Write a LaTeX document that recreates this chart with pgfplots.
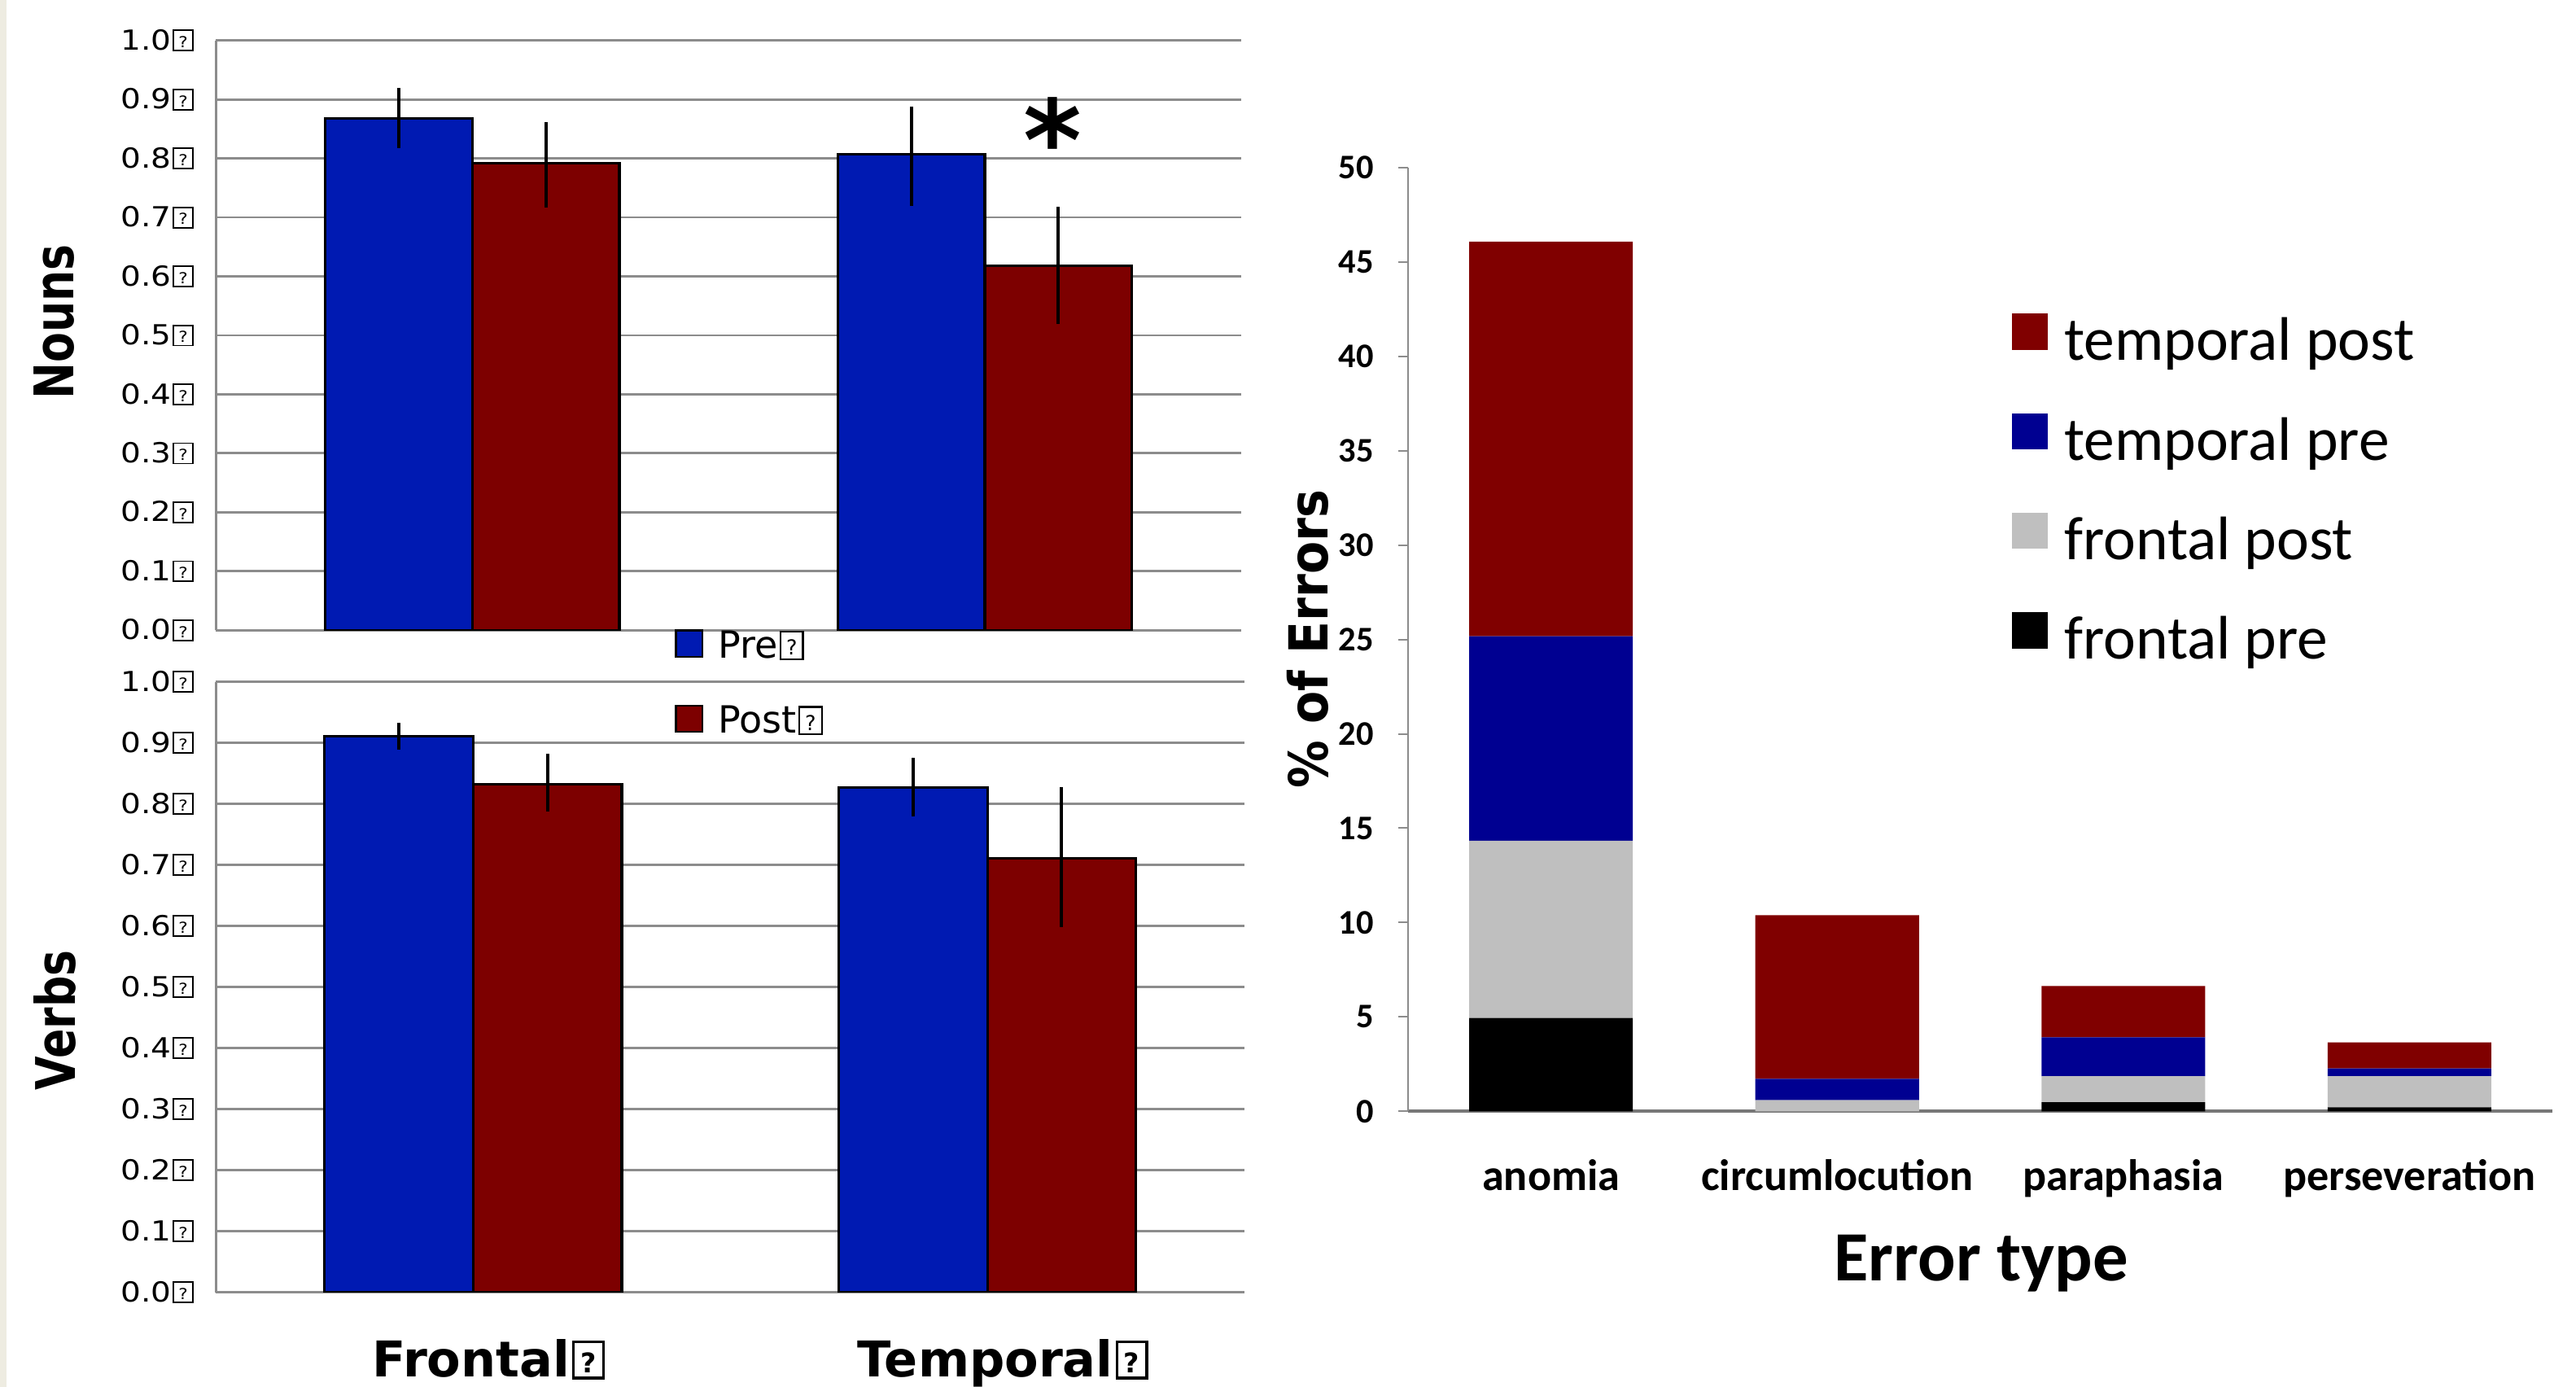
\documentclass[border=0pt]{standalone}
\usepackage{pgfplots}
\pgfplotsset{compat=1.18}
\usepackage{graphicx}
\usepackage{fontspec}
\setmainfont{DejaVu Sans}
\newfontfamily\carlito{Carlito}
\definecolor{preblue}{RGB}{0,26,178}
\definecolor{postred}{RGB}{125,0,0}
\definecolor{gridgray}{RGB}{140,140,140}
\definecolor{tpost}{RGB}{128,0,0}
\definecolor{tpre}{RGB}{0,0,145}
\definecolor{fpost}{RGB}{191,191,191}
\definecolor{beige}{RGB}{238,236,225}
\newcommand{\qb}{{\setlength{\fboxsep}{0pt}\setlength{\fboxrule}{0.055em}\kern0.05em\fbox{\makebox[0.55em]{\rule{0pt}{0.68em}\raisebox{0.08em}{\scalebox{0.55}{?}}}}}}
\newcommand{\tl}[1]{\scalebox{1.15}[1]{#1\qb}}
\pgfplotsset{
  lrbar/.style={ybar, bar width=#1, bar shift=0pt, draw=black, line width=0.8pt},
  ebars/.style={error bars/.cd, y dir=both, y explicit, error mark=none, error bar style={line width=1pt, black, solid}},
}
\begin{document}
\begin{tikzpicture}
\useasboundingbox (0,0) rectangle (784pt,422pt);
\fill[beige] (0,0) rectangle (1.9pt,422pt);
% ---------------- Nouns ----------------
\begin{axis}[
  at={(65.75pt,230.2pt)}, anchor=south west,
  scale only axis, width=312pt, height=179.5pt,
  xmin=-0.5, xmax=1.5, ymin=0, ymax=1,
  axis x line=bottom, axis y line=left,
  axis line style={draw=gridgray, line width=0.7pt, -},
  xtick=\empty,
  ytick={0,0.1,0.2,0.3,0.4,0.5,0.6,0.7,0.8,0.9,1},
  yticklabels={\tl{0.0},\tl{0.1},\tl{0.2},\tl{0.3},\tl{0.4},\tl{0.5},\tl{0.6},\tl{0.7},\tl{0.8},\tl{0.9},\tl{1.0}},
  yticklabel style={font=\fontsize{8.4}{10}\selectfont, inner sep=0pt, xshift=-6.6pt},
  major tick length=0pt,
  ymajorgrids, grid style={draw=gridgray, line width=0.7pt},
  every axis plot/.append style={draw=black, line width=0.8pt},
  ylabel={\scalebox{1}[1.25]{Nouns}},
  ylabel style={font=\bfseries\fontsize{13.3}{16}\selectfont, at={(axis description cs:-0.158,0.5226)}, anchor=center},
  legend style={draw=none, fill=none, inner sep=0pt, at={(axis description cs:0.447,0.0117)}, anchor=north west,
    font=\fontsize{11.4}{13}\selectfont, row sep=9pt, cells={anchor=west},
    /tikz/every odd column/.append style={column sep=2.5pt}},
]
\addplot[lrbar=0.287, fill=preblue,
  legend image code/.code={\draw[fill=preblue, draw=black, line width=0.6pt] (0pt,-3pt) rectangle (8pt,5pt);},
  ebars]
  coordinates {(-0.1435,0.868) += (0,0.051) -= (0,0.050) (0.8565,0.807) += (0,0.081) -= (0,0.087)};
\addlegendentry{Pre\qb}
\addplot[lrbar=0.287, fill=postred,
  legend image code/.code={\draw[fill=postred, draw=black, line width=0.6pt] (0pt,-3pt) rectangle (8pt,5pt);},
  ebars]
  coordinates {(0.1435,0.792) += (0,0.069) -= (0,0.075) (1.1435,0.618) += (0,0.100) -= (0,0.099)};
\addlegendentry{Post\qb}
\node[font=\bfseries\fontsize{34}{34}\selectfont, inner sep=0pt] at (axis cs:1.133,0.833) {*};
\end{axis}
% ---------------- Verbs ----------------
\begin{axis}[
  at={(65.75pt,28.7pt)}, anchor=south west,
  scale only axis, width=313pt, height=185.8pt,
  xmin=-0.5, xmax=1.5, ymin=0, ymax=1,
  axis x line=bottom, axis y line=left,
  axis line style={draw=gridgray, line width=0.7pt, -},
  xtick={0,1}, xticklabels={Frontal\qb,Temporal\qb},
  xticklabel style={font=\bfseries\fontsize{15}{18}\selectfont, anchor=base, inner sep=0pt, yshift=-25.7pt, xshift=4.7pt},
  ytick={0,0.1,0.2,0.3,0.4,0.5,0.6,0.7,0.8,0.9,1},
  yticklabels={\tl{0.0},\tl{0.1},\tl{0.2},\tl{0.3},\tl{0.4},\tl{0.5},\tl{0.6},\tl{0.7},\tl{0.8},\tl{0.9},\tl{1.0}},
  yticklabel style={font=\fontsize{8.4}{10}\selectfont, inner sep=0pt, xshift=-6.6pt},
  major tick length=0pt,
  ymajorgrids, grid style={draw=gridgray, line width=0.7pt},
  every axis plot/.append style={draw=black, line width=0.8pt},
  ylabel={\scalebox{1}[1.25]{Verbs}},
  ylabel style={font=\bfseries\fontsize{13.3}{16}\selectfont, at={(axis description cs:-0.157,0.4456)}, anchor=center},
]
\addplot[lrbar=0.289, fill=preblue, ebars]
  coordinates {(-0.1445,0.911) += (0,0.022) -= (0,0.022) (0.8555,0.827) += (0,0.049) -= (0,0.048)};
\addplot[lrbar=0.289, fill=postred, ebars]
  coordinates {(0.1445,0.832) += (0,0.050) -= (0,0.044) (1.1445,0.711) += (0,0.116) -= (0,0.113)};
\end{axis}
% ---------------- Error types ----------------
\begin{axis}[
  at={(428.5pt,83.8pt)}, anchor=south west,
  scale only axis, width=348.35pt, height=287.2pt,
  xmin=-0.5, xmax=3.5, ymin=0, ymax=50,
  ybar stacked, bar width=0.572,
  every axis plot post/.append style={legend image code/.code={\path[#1, draw=none] (0pt,-2.5pt) rectangle (11pt,8.5pt);}},
  axis x line=bottom, axis y line=left,
  x axis line style={draw=gridgray!85!black, line width=0.9pt, -},
  y axis line style={draw=gridgray, line width=0.5pt, -},
  ytick={0,5,10,15,20,25,30,35,40,45,50},
  yticklabels={0,5,10,15,20,25,30,35,40,45,50},
  ytick style={draw=gridgray, line width=0.5pt},
  tick align=outside, major tick length=3pt,
  yticklabel style={font=\carlito\bfseries\fontsize{10.5}{12}\selectfont, inner sep=0pt, xshift=-7.3pt},
  xtick={0,1,2,3}, xticklabels={anomia,circumlocution,paraphasia,perseveration},
  xtick style={draw=none},
  xticklabel style={font=\carlito\bfseries\fontsize{13.4}{16}\selectfont, anchor=base, inner sep=0pt, yshift=-21pt},
  ylabel={\scalebox{1}[1.13]{\% of Errors}},
  ylabel style={font=\bfseries\fontsize{14.5}{17}\selectfont, at={(axis description cs:-0.0876,0.5003)}, anchor=center},
  xlabel={Error type},
  xlabel style={font=\carlito\bfseries\fontsize{21.5}{25}\selectfont, at={(axis description cs:0.501,-0.180)}, anchor=base},
  reverse legend,
  legend style={draw=none, fill=none, inner sep=0pt, at={(axis description cs:0.5268,0.8485)}, anchor=north west,
    font=\carlito\fontsize{18.7}{22}\selectfont, row sep=11.8pt, cells={anchor=west},
    /tikz/every odd column/.append style={column sep=3pt}},
]
\addplot[fill=black, draw=none] coordinates {(0,4.95) (1,0) (2,0.48) (3,0.21)};
\addlegendentry{frontal pre}
\addplot[fill=fpost, draw=none] coordinates {(0,9.39) (1,0.585) (2,1.38) (3,1.65)};
\addlegendentry{frontal post}
\addplot[fill=tpre, draw=none] coordinates {(0,10.83) (1,1.135) (2,2.06) (3,0.41)};
\addlegendentry{temporal pre}
\addplot[fill=tpost, draw=none] coordinates {(0,20.91) (1,8.67) (2,2.72) (3,1.38)};
\addlegendentry{temporal post}
\end{axis}
\end{tikzpicture}
\end{document}
